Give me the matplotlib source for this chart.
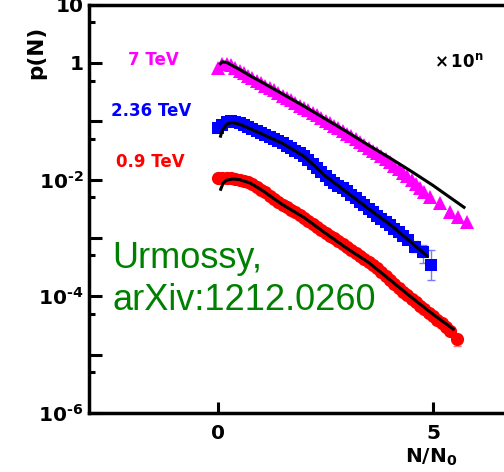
import numpy as np
import matplotlib
matplotlib.use('Agg')
import matplotlib.pyplot as plt
from matplotlib.ticker import FixedLocator, FuncFormatter, NullFormatter

plt.rcParams['font.family'] = ['DejaVu Sans']
plt.rcParams['font.weight'] = 'bold'
plt.rcParams['mathtext.fontset'] = 'dejavusans'

# --- data (y given as log10 p) ---
# 7 TeV (magenta triangles)
x7 = [0.0, 0.1, 0.2, 0.3, 0.4, 0.5, 0.6, 0.7, 0.8, 0.9, 1.0, 1.1, 1.2, 1.3, 1.4,
      1.5, 1.6, 1.7, 1.8, 1.9, 2.0, 2.1, 2.2, 2.3, 2.4, 2.5, 2.6, 2.7, 2.8, 2.9,
      3.0, 3.1, 3.2, 3.3, 3.4, 3.5, 3.6, 3.7, 3.8, 3.9, 4.0, 4.1, 4.2, 4.3, 4.4,
      4.5, 4.6, 4.7, 4.8, 4.93, 5.16, 5.4, 5.58, 5.78]
logp7 = [-0.08, -0.02, -0.01, -0.04, -0.08, -0.13, -0.17, -0.22, -0.26, -0.31,
         -0.35, -0.39, -0.43, -0.47, -0.52, -0.56, -0.60, -0.64, -0.68, -0.73,
         -0.77, -0.81, -0.86, -0.90, -0.95, -0.99, -1.03, -1.08, -1.12, -1.17,
         -1.21, -1.26, -1.30, -1.35, -1.40, -1.46, -1.51, -1.55, -1.60, -1.65,
         -1.70, -1.76, -1.82, -1.88, -1.94, -2.00, -2.07, -2.14, -2.21, -2.29,
         -2.40, -2.55, -2.64, -2.72]

# 2.36 TeV (blue squares)
x236 = [0.0, 0.1, 0.2, 0.3, 0.4, 0.5, 0.6, 0.7, 0.8, 0.9, 1.0, 1.1, 1.2, 1.3, 1.4,
        1.5, 1.6, 1.7, 1.8, 1.9, 2.0, 2.1, 2.2, 2.3, 2.4, 2.5, 2.6, 2.7, 2.8, 2.9,
        3.0, 3.1, 3.2, 3.3, 3.4, 3.5, 3.6, 3.7, 3.8, 3.9, 4.0, 4.1, 4.2, 4.3,
        4.43, 4.58, 4.76, 4.95]
logp236 = [-1.12, -1.06, -1.02, -1.00, -1.01, -1.03, -1.06, -1.10, -1.13, -1.16,
           -1.20, -1.23, -1.27, -1.30, -1.34, -1.38, -1.42, -1.46, -1.51, -1.55,
           -1.60, -1.66, -1.73, -1.80, -1.87, -1.94, -2.00, -2.06, -2.11, -2.15,
           -2.20, -2.26, -2.32, -2.38, -2.44, -2.50, -2.56, -2.62, -2.67, -2.72,
           -2.78, -2.84, -2.90, -2.97, -3.04, -3.15, -3.25, -3.46]
# error bars on the last blue points (log10 of lower / upper ends)
xerr236 = [4.43, 4.58, 4.76, 4.95]
lo236 = [-3.10, -3.25, -3.43, -3.72]
hi236 = [-2.98, -3.06, -3.12, -3.21]

# 0.9 TeV (red circles)
x09 = [0.0, 0.1, 0.2, 0.3, 0.4, 0.5, 0.6, 0.7, 0.8, 0.9, 1.0, 1.1, 1.2, 1.3, 1.4,
       1.5, 1.6, 1.7, 1.8, 1.9, 2.0, 2.1, 2.2, 2.3, 2.4, 2.5, 2.6, 2.7, 2.8, 2.9,
       3.0, 3.1, 3.2, 3.3, 3.4, 3.5, 3.6, 3.7, 3.8, 3.9, 4.0, 4.1, 4.2, 4.3, 4.4,
       4.5, 4.6, 4.7, 4.8, 4.9, 5.0, 5.1, 5.2, 5.3, 5.4, 5.55]
logp09 = [-1.97, -1.97, -1.98, -1.98, -1.99, -2.00, -2.02, -2.04, -2.08, -2.12,
          -2.17, -2.22, -2.28, -2.33, -2.38, -2.43, -2.47, -2.52, -2.56, -2.61,
          -2.66, -2.71, -2.76, -2.81, -2.86, -2.91, -2.96, -3.01, -3.06, -3.11,
          -3.16, -3.21, -3.26, -3.31, -3.36, -3.41, -3.46, -3.52, -3.58, -3.65,
          -3.72, -3.79, -3.86, -3.92, -3.98, -4.04, -4.10, -4.16, -4.22, -4.28,
          -4.34, -4.40, -4.46, -4.53, -4.60, -4.74]
xerr09 = [5.55]
lo09 = [-4.86]
hi09 = [-4.64]

# fitted curves (black)
xf7 = [0.03, 0.1, 0.2, 0.35, 0.5, 0.75, 1.0, 1.5, 2.0, 2.5, 3.0, 3.5, 4.0, 4.5, 5.0, 5.5, 5.75]
logf7 = [-0.03, 0.02, 0.01, -0.05, -0.11, -0.22, -0.32, -0.53, -0.74, -0.96, -1.18,
         -1.41, -1.63, -1.86, -2.10, -2.36, -2.49]
xf236 = [0.05, 0.1, 0.2, 0.32, 0.5, 0.75, 1.0, 1.5, 2.0, 2.5, 3.0, 3.5, 4.0, 4.5, 4.89]
logf236 = [-1.28, -1.15, -1.05, -1.02, -1.05, -1.13, -1.21, -1.38, -1.60, -1.94,
           -2.22, -2.50, -2.77, -3.08, -3.33]
xf09 = [0.05, 0.12, 0.2, 0.35, 0.5, 0.75, 1.0, 1.5, 2.0, 2.5, 3.0, 3.5, 4.0, 4.5, 5.0, 5.5]
logf09 = [-2.19, -2.06, -2.01, -1.99, -2.00, -2.06, -2.17, -2.43, -2.65, -2.92,
          -3.18, -3.42, -3.72, -4.02, -4.31, -4.58]

labels = ['7 TeV', '2.36 TeV', '0.9 TeV']
colors = ['#ff00ff', '#0000ff', '#ff0000']


def p(a):
    return 10.0 ** np.asarray(a)


W, H = 504, 472
fig = plt.figure(figsize=(W / 100, H / 100), dpi=100)
ax = fig.add_axes([89 / W, 59.2 / H, 430 / W, 408.1 / H])

ax.plot(x7, p(logp7), linestyle='none', marker='^', ms=10, mew=0, color=colors[0])
mid236 = np.add(lo236, hi236) / 2
ax.errorbar(xerr236, p(mid236), yerr=[p(mid236) - p(lo236), p(hi236) - p(mid236)],
            fmt='none', ecolor='#7a7aff', elinewidth=1, capsize=3, capthick=1)
ax.plot(x236, p(logp236), linestyle='none', marker='s', ms=8.5, mew=0, color=colors[1])
mid09 = np.add(lo09, hi09) / 2
ax.errorbar(xerr09, p(mid09), yerr=[p(mid09) - p(lo09), p(hi09) - p(mid09)],
            fmt='none', ecolor='#ff7a7a', elinewidth=1, capsize=3, capthick=1)
ax.plot(x09, p(logp09), linestyle='none', marker='o', ms=9.5, mew=0, color=colors[2])

for xf, lf in [(xf7, logf7), (xf236, logf236), (xf09, logf09)]:
    ax.plot(xf, p(lf), color='black', lw=2.2, solid_capstyle='butt')

ax.set_yscale('log')
ax.set_xlim(-3, 7)
ax.set_ylim(1e-6, 10)

ax.xaxis.set_major_locator(FixedLocator([0, 5]))
ax.yaxis.set_major_locator(FixedLocator([10.0 ** k for k in range(-6, 2)]))
ax.yaxis.set_minor_locator(FixedLocator([5 * 10.0 ** k for k in range(-7, 1)]))
ax.yaxis.set_minor_formatter(NullFormatter())

ylab = {1: '10', 0: '1', -2: '$\\mathbf{10^{\u20102}}$', -4: '$\\mathbf{10^{\u20104}}$',
        -6: '$\\mathbf{10^{\u20106}}$'}


def yfmt(v, pos):
    return ylab.get(int(round(np.log10(v))), '')


ax.yaxis.set_major_formatter(FuncFormatter(yfmt))
ax.tick_params(axis='y', which='major', direction='in', length=9, width=2.2,
               labelsize=14.5, pad=4)
ax.tick_params(axis='y', which='minor', direction='in', length=4.5, width=2.2)
ax.tick_params(axis='x', which='major', direction='in', length=8, width=2.2,
               labelsize=14.5, pad=8)
for s in ['left', 'bottom', 'top']:
    ax.spines[s].set_linewidth(2.5)
ax.spines['right'].set_visible(False)


# labels and annotations, placed in figure pixels
def fx(px):
    return px / W


def fy(py):
    return 1 - py / H


fig.text(fx(36), fy(52), 'p(N)', rotation=90, fontsize=15.5, ha='center', va='center')
fig.text(fx(431), fy(457), r'$\mathbf{N/N_0}$', fontsize=14.5, ha='center', va='center')

fig.text(fx(153), fy(60), labels[0], color=colors[0], fontsize=12, ha='center', va='center')
fig.text(fx(151), fy(111), labels[1], color=colors[1], fontsize=12, ha='center', va='center')
fig.text(fx(150), fy(162), labels[2], color=colors[2], fontsize=12, ha='center', va='center')

fig.text(fx(434), fy(62), r'$\times\,\mathbf{10^{n}}$', fontsize=12, ha='left', va='center')

fig.text(fx(112), fy(268), 'Urmossy,', color='#008000', fontsize=26,
         family='Liberation Sans', fontweight='normal', ha='left', va='baseline')
fig.text(fx(112), fy(310), 'arXiv:1212.0260', color='#008000', fontsize=26,
         family='Liberation Sans', fontweight='normal', ha='left', va='baseline')

fig.savefig('out.png', dpi=100)
